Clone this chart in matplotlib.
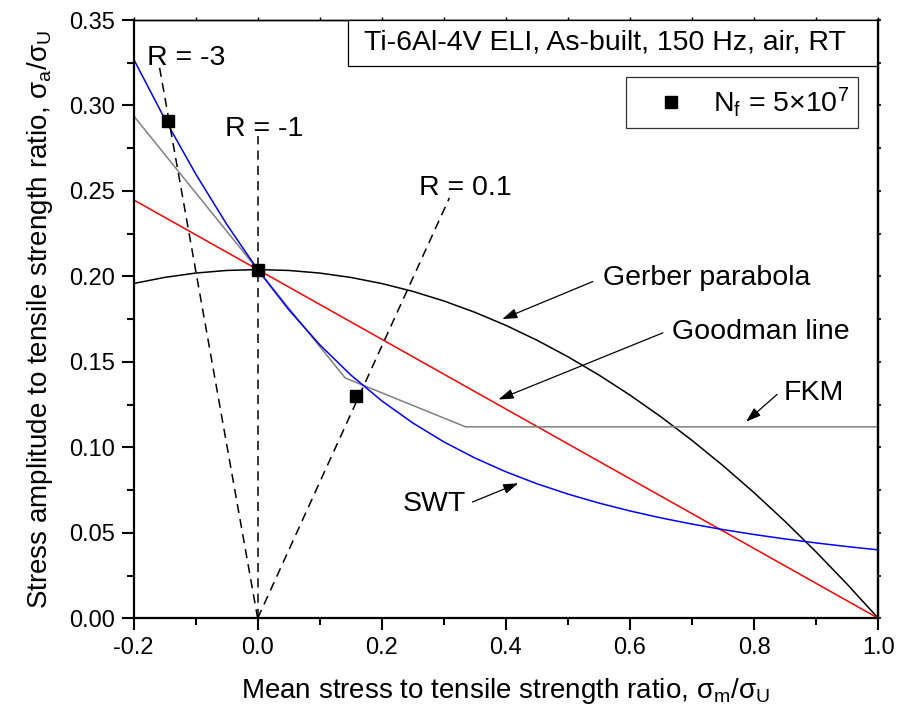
import matplotlib
matplotlib.use("Agg")
import matplotlib.pyplot as plt
from matplotlib.patches import Rectangle

plt.rcParams['font.family'] = ['Liberation Sans', 'DejaVu Sans']
plt.rcParams['mathtext.fontset'] = 'custom'
plt.rcParams['mathtext.rm'] = 'Liberation Sans'
plt.rcParams['mathtext.it'] = 'Liberation Sans'

# ---- data ----
x_grid = [-0.2, -0.15, -0.1, -0.05, 0.0, 0.05, 0.1, 0.15, 0.2, 0.25, 0.3, 0.35, 0.4,
          0.45, 0.5, 0.55, 0.6, 0.65, 0.7, 0.75, 0.8, 0.85, 0.9, 0.95, 1.0]
gerber = [0.19584, 0.19941, 0.20196, 0.20349, 0.204, 0.20349, 0.20196, 0.19941, 0.19584,
          0.19125, 0.18564, 0.17901, 0.17136, 0.16269, 0.153, 0.14229, 0.13056, 0.11781,
          0.10404, 0.08925, 0.07344, 0.05661, 0.03876, 0.01989, 0.0]
swt = [0.32719, 0.29235, 0.26004, 0.23053, 0.204, 0.18053, 0.16004, 0.14235, 0.12719,
       0.11425, 0.10321, 0.09378, 0.08569, 0.07871, 0.07267, 0.06740, 0.06279, 0.05872,
       0.05511, 0.05189, 0.04901, 0.04642, 0.04408, 0.04195, 0.04002]
goodman_x = [-0.2, 1.0]
goodman_y = [0.2448, 0.0]
fkm_x = [-0.2, 0.0, 0.141, 0.335, 1.0]
fkm_y = [0.294, 0.204, 0.1406, 0.112, 0.112]

exp_x = [-0.144, 0.0, 0.159]
exp_y = [0.291, 0.204, 0.130]

r_labels = ['R = -3', 'R = -1', 'R = 0.1']
r_end_x = [-0.158, 0.0, 0.309]
r_end_y = [0.322, 0.282, 0.246]
r_text_x = [-0.178, -0.052, 0.26]
r_text_y = [0.328, 0.286, 0.252]

ann_labels = ['Gerber parabola', 'Goodman line', 'FKM', 'SWT']
ann_text_x = [0.557, 0.668, 0.847, 0.233]
ann_text_y = [0.199, 0.1675, 0.132, 0.067]
ann_from_x = [0.540, 0.653, 0.837, 0.346]
ann_from_y = [0.197, 0.167, 0.131, 0.068]
ann_to_x = [0.394, 0.388, 0.787, 0.420]
ann_to_y = [0.175, 0.128, 0.115, 0.079]

x_major = [-0.2, 0.0, 0.2, 0.4, 0.6, 0.8, 1.0]
x_major_labels = ['-0.2', '0.0', '0.2', '0.4', '0.6', '0.8', '1.0']
x_minor = [-0.1, 0.1, 0.3, 0.5, 0.7, 0.9]
y_major = [0.0, 0.05, 0.10, 0.15, 0.20, 0.25, 0.30, 0.35]
y_major_labels = ['0.00', '0.05', '0.10', '0.15', '0.20', '0.25', '0.30', '0.35']
y_minor = [0.025, 0.075, 0.125, 0.175, 0.225, 0.275, 0.325]

FS = 20.5

fig = plt.figure(figsize=(9.06, 7.12), dpi=100)
ax = fig.add_axes([0.1474, 0.1316, 0.822, 0.8403])

ax.plot(x_grid, gerber, color='black', lw=1.1)
ax.plot(goodman_x, goodman_y, color='red', lw=1.1)
ax.plot(fkm_x, fkm_y, color='#808080', lw=1.1)
ax.plot(x_grid, swt, color='blue', lw=1.1)

for ex, ey in zip(r_end_x, r_end_y):
    ax.plot([0.0, ex], [0.0, ey], color='black', lw=1.1, dashes=(6, 4))
for lab, tx, ty in zip(r_labels, r_text_x, r_text_y):
    ax.text(tx, ty, lab, fontsize=FS, ha='left', va='center')

ax.plot(exp_x, exp_y, 's', color='black', ms=9, label='N$_\\mathregular{f}$ = 5×10$^\\mathregular{7}$',
        zorder=5)

for lab, tx, ty, fx, fy, ex, ey in zip(ann_labels, ann_text_x, ann_text_y, ann_from_x,
                                       ann_from_y, ann_to_x, ann_to_y):
    ax.text(tx, ty, lab, fontsize=FS, ha='left', va='center')
    ax.annotate('', xy=(ex, ey), xytext=(fx, fy),
                arrowprops=dict(arrowstyle='-|>,head_length=0.9,head_width=0.3',
                                color='black', lw=0.9, shrinkA=0, shrinkB=0))

# title box (frame drawn as a patch, text inside)
ax.add_patch(Rectangle((0.146, 0.3232), 0.852, 0.0268, fc='white', ec='black', lw=0.9,
                       zorder=4, clip_on=False))
ax.text(0.172, 0.3366, 'Ti-6Al-4V ELI, As-built, 150 Hz, air, RT', fontsize=FS,
        ha='left', va='center', zorder=5)

leg = ax.legend(loc='upper right', bbox_to_anchor=(0.9727, 0.9047), fontsize=FS,
                frameon=True, fancybox=False, edgecolor='black', handletextpad=0.25,
                borderpad=0.3, handlelength=2.5, borderaxespad=0)
leg.get_frame().set_linewidth(0.9)

ax.set_xlim(-0.2, 1.0)
ax.set_ylim(0.0, 0.35)
ax.set_xticks(x_major)
ax.set_xticklabels(x_major_labels)
ax.set_xticks(x_minor, minor=True)
ax.set_yticks(y_major)
ax.set_yticklabels(y_major_labels)
ax.set_yticks(y_minor, minor=True)

ax.tick_params(which='major', direction='out', length=8.5, width=1.5, labelsize=17, pad=5)
ax.tick_params(which='minor', direction='out', length=5, width=1.5)
for side in ['left', 'bottom', 'right']:
    ax.spines[side].set_linewidth(1.6)
ax.spines['top'].set_linewidth(1.0)

# small ticks on the top and right frame
secx = ax.secondary_xaxis('top')
secx.set_xticks(x_major)
secx.set_xticks(x_minor, minor=True)
secx.tick_params(which='both', direction='out', length=2.5, width=1.0, labeltop=False)
secx.spines['top'].set_linewidth(1.0)
secy = ax.secondary_yaxis('right')
secy.set_yticks(y_major)
secy.set_yticks(y_minor, minor=True)
secy.tick_params(which='both', direction='out', length=2.5, width=1.2, labelright=False)
secy.spines['right'].set_linewidth(1.6)

ax.set_xlabel('Mean stress to tensile strength ratio, σ$_\\mathregular{m}$/σ$_\\mathregular{U}$',
              fontsize=20, labelpad=12)
ax.set_ylabel('Stress amplitude to tensile strength ratio, σ$_\\mathregular{a}$/σ$_\\mathregular{U}$',
              fontsize=20, labelpad=10)

fig.savefig('out.png', dpi=100)
